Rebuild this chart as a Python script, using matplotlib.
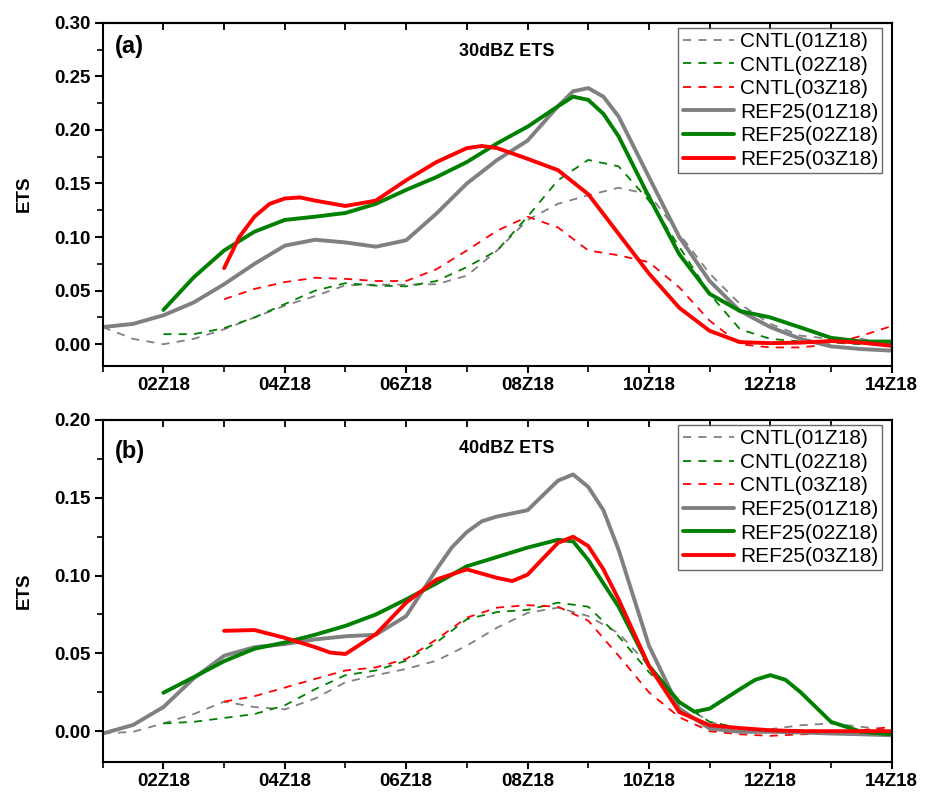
import numpy as np
import matplotlib
matplotlib.use("Agg")
import matplotlib.pyplot as plt
from matplotlib.ticker import MultipleLocator, FixedLocator

plt.rcParams['font.family'] = ['Liberation Sans', 'DejaVu Sans']

# ---- data (ETS, read every half hour) ----
hrs_01 = np.arange(1, 14.01, 0.5)   # runs starting 01Z18
hrs_02 = np.arange(2, 14.01, 0.5)   # runs starting 02Z18
hrs_03 = np.arange(3, 14.01, 0.5)   # runs starting 03Z18

# panel (a) 30dBZ
cntl01_a = [0.016, 0.005, 0.000, 0.005, 0.014, 0.025, 0.036, 0.045, 0.055, 0.0556, 0.0556, 0.056, 0.064, 0.0875,
            0.116, 0.131, 0.139, 0.146, 0.140, 0.103, 0.066, 0.0375, 0.019, 0.008, 0.005, 0.005, 0.000]
cntl02_a = [0.0094, 0.0094, 0.015, 0.025, 0.0375, 0.050, 0.057, 0.0547, 0.054, 0.059, 0.072, 0.0875, 0.119,
            0.153, 0.172, 0.166, 0.134, 0.091, 0.047, 0.014, 0.005, 0.0025, 0.0016, 0.000, 0.000]
cntl03_a = [0.042, 0.0516, 0.058, 0.062, 0.061, 0.059, 0.059, 0.070, 0.0875, 0.106, 0.119, 0.109, 0.0875,
            0.083, 0.0766, 0.053, 0.022, 0.000, -0.003, -0.003, 0.000, 0.0078, 0.017]
ref01_a = [0.016, 0.019, 0.027, 0.039, 0.056, 0.075, 0.092, 0.0975, 0.095, 0.091, 0.097, 0.122, 0.150, 0.172,
           0.190, 0.222, 0.239, 0.2125, 0.156, 0.100, 0.059, 0.031, 0.016, 0.005, -0.002, -0.0045, -0.006]
ref02_a = [0.032, 0.0625, 0.0875, 0.105, 0.116, 0.119, 0.1225, 0.131, 0.144, 0.156, 0.170, 0.1875, 0.203,
           0.222, 0.228, 0.194, 0.1375, 0.084, 0.047, 0.031, 0.025, 0.0156, 0.006, 0.0025, 0.0025]
ref03_a = [0.071, 0.119, 0.136, 0.134, 0.129, 0.134, 0.153, 0.170, 0.183, 0.183, 0.173, 0.1625, 0.140,
           0.103, 0.066, 0.034, 0.0125, 0.002, 0.001, 0.0015, 0.003, 0.0015, -0.0015]

# panel (b) 40dBZ
cntl01_b = [-0.0015, -0.0004, 0.005, 0.011, 0.019, 0.0155, 0.014, 0.021, 0.0315, 0.036, 0.040, 0.0453, 0.055,
            0.0666, 0.076, 0.0794, 0.074, 0.063, 0.042, 0.0187, 0.006, 0.0006, 0.0013, 0.0038, 0.005, 0.0028, 0.0006]
cntl02_b = [0.005, 0.006, 0.0085, 0.011, 0.0166, 0.027, 0.036, 0.039, 0.0453, 0.057, 0.072, 0.0766, 0.078,
            0.0826, 0.080, 0.061, 0.038, 0.0187, 0.006, 0.002, 0.0006, 0.0006, 0.000, -0.0002, -0.0004]
cntl03_b = [0.019, 0.0225, 0.028, 0.0336, 0.039, 0.041, 0.0464, 0.059, 0.073, 0.0794, 0.081, 0.080, 0.071,
            0.0485, 0.025, 0.009, 0.000, -0.002, -0.003, -0.002, -0.0015, 0.0006, 0.0028]
ref01_b = [-0.0015, 0.004, 0.0155, 0.034, 0.0485, 0.054, 0.056, 0.059, 0.061, 0.062, 0.074, 0.104, 0.128,
           0.138, 0.142, 0.161, 0.157, 0.1166, 0.055, 0.0145, 0.0017, -0.0004, -0.0004, -0.0008, -0.0015, -0.002, -0.0026]
ref02_b = [0.0247, 0.0347, 0.045, 0.053, 0.057, 0.062, 0.0677, 0.075, 0.0847, 0.095, 0.106, 0.112, 0.118,
           0.123, 0.110, 0.080, 0.042, 0.0187, 0.0145, 0.027, 0.036, 0.025, 0.006, -0.0004, -0.002]
ref03_b = [0.0645, 0.065, 0.060, 0.054, 0.0496, 0.0623, 0.0826, 0.0975, 0.104, 0.0985, 0.1006, 0.121, 0.119,
           0.0847, 0.042, 0.0123, 0.0038, 0.002, 0.0006, 0.000, 0.000, 0.000, 0.000]

# extra quarter-hour readings where the REF curves bend sharply
ref01_a_qx, ref01_a_q = [8.75, 9.25], [0.236, 0.231]
ref02_a_qx, ref02_a_q = [8.75, 9.25], [0.231, 0.215]
ref03_a_qx, ref03_a_q = [3.25, 3.75, 4.25, 7.25], [0.100, 0.131, 0.137, 0.185]
ref01_b_qx, ref01_b_q = [6.75, 7.25, 8.75, 9.25], [0.118, 0.135, 0.165, 0.142]
ref02_b_qx, ref02_b_q = [8.75, 10.75, 11.75, 12.25], [0.122, 0.0125, 0.033, 0.033]
ref03_b_qx, ref03_b_q = [4.75, 7.75, 8.75, 9.25], [0.0505, 0.0965, 0.125, 0.104]

xtick_pos = [2, 4, 6, 8, 10, 12, 14]
xtick_labels = ["02Z18", "04Z18", "06Z18", "08Z18", "10Z18", "12Z18", "14Z18"]

GRAY, GREEN, RED = "#808080", "#008000", "#ff0000"


def merged(x, y, qx, qy):
    xs = np.concatenate([x, qx])
    ys = np.concatenate([y, qy])
    order = np.argsort(xs)
    return xs[order], ys[order]


def draw_panel(ax, cntl, ref, ymax, tag, title, tag_y, title_y):
    dash = dict(lw=1.3, linestyle=(0, (4.5, 4)))
    solid = dict(lw=2.8, solid_capstyle="round", solid_joinstyle="round")
    ax.plot(hrs_01, cntl[0], color=GRAY, label="CNTL(01Z18)", **dash)
    ax.plot(hrs_02, cntl[1], color=GREEN, label="CNTL(02Z18)", **dash)
    ax.plot(hrs_03, cntl[2], color=RED, label="CNTL(03Z18)", **dash)
    ax.plot(*merged(hrs_01, *ref[0]), color=GRAY, label="REF25(01Z18)", **solid)
    ax.plot(*merged(hrs_02, *ref[1]), color=GREEN, label="REF25(02Z18)", **solid)
    ax.plot(*merged(hrs_03, *ref[2]), color=RED, label="REF25(03Z18)", **solid)

    ax.set_xlim(1, 14)
    ax.set_ylim(-0.02, ymax)
    ax.set_xticks(xtick_pos)
    ax.set_xticklabels(xtick_labels, fontsize=13.5, fontweight="bold")
    ax.xaxis.set_minor_locator(FixedLocator([1, 3, 5, 7, 9, 11, 13]))
    ax.set_yticks(np.arange(0, ymax + 0.001, 0.05))
    ax.set_yticklabels(["%.2f" % v for v in np.arange(0, ymax + 0.001, 0.05)],
                       fontsize=13.5, fontweight="bold")
    ax.yaxis.set_minor_locator(MultipleLocator(0.025))

    ax.tick_params(axis="x", which="major", direction="out", length=5, width=1.5, pad=3,
                   top=False)
    ax.tick_params(axis="x", which="minor", direction="out", length=4, width=1.2, top=False)
    ax.tick_params(axis="y", which="major", direction="out", length=6, width=1.5, pad=3)
    ax.tick_params(axis="y", which="minor", direction="out", length=4, width=1.2)
    for sp in ax.spines.values():
        sp.set_linewidth(1.5)

    # inward ticks along the top spine
    top = ax.secondary_xaxis("top")
    top.set_xticks([1, 2, 3, 4, 5, 6, 7, 8, 9, 10, 11, 12, 13, 14])
    top.tick_params(direction="in", length=5, width=1.3, labeltop=False)
    top.spines["top"].set_linewidth(1.5)

    ax.set_ylabel("ETS", fontsize=13.5, fontweight="bold")
    ax.yaxis.set_label_coords(-0.089, 0.5)
    ax.text(0.016, tag_y, tag, transform=ax.transAxes, fontsize=17, fontweight="bold",
            ha="left", va="center")
    ax.text(0.512, title_y, title, transform=ax.transAxes, fontsize=13, fontweight="bold",
            ha="center", va="center")

    leg = ax.legend(loc="upper right", bbox_to_anchor=(0.988, 0.985), fontsize=15,
                    frameon=True, fancybox=False, edgecolor="#444444",
                    handlelength=2.45, handletextpad=0.3, labelspacing=0.22,
                    borderpad=0.2, borderaxespad=0.0)
    leg.get_frame().set_linewidth(1.0)


fig = plt.figure(figsize=(9.34, 7.92), dpi=100)
ax1 = fig.add_axes([0.110, 0.5383, 0.8447, 0.4330])
ax2 = fig.add_axes([0.110, 0.0375, 0.8447, 0.4322])

draw_panel(ax1, [cntl01_a, cntl02_a, cntl03_a],
           [(ref01_a, ref01_a_qx, ref01_a_q), (ref02_a, ref02_a_qx, ref02_a_q), (ref03_a, ref03_a_qx, ref03_a_q)],
           0.30, "(a)", "30dBZ ETS", 0.93, 0.915)
draw_panel(ax2, [cntl01_b, cntl02_b, cntl03_b],
           [(ref01_b, ref01_b_qx, ref01_b_q), (ref02_b, ref02_b_qx, ref02_b_q), (ref03_b, ref03_b_qx, ref03_b_q)],
           0.20, "(b)", "40dBZ ETS", 0.909, 0.918)

fig.savefig("out.png", dpi=100)
